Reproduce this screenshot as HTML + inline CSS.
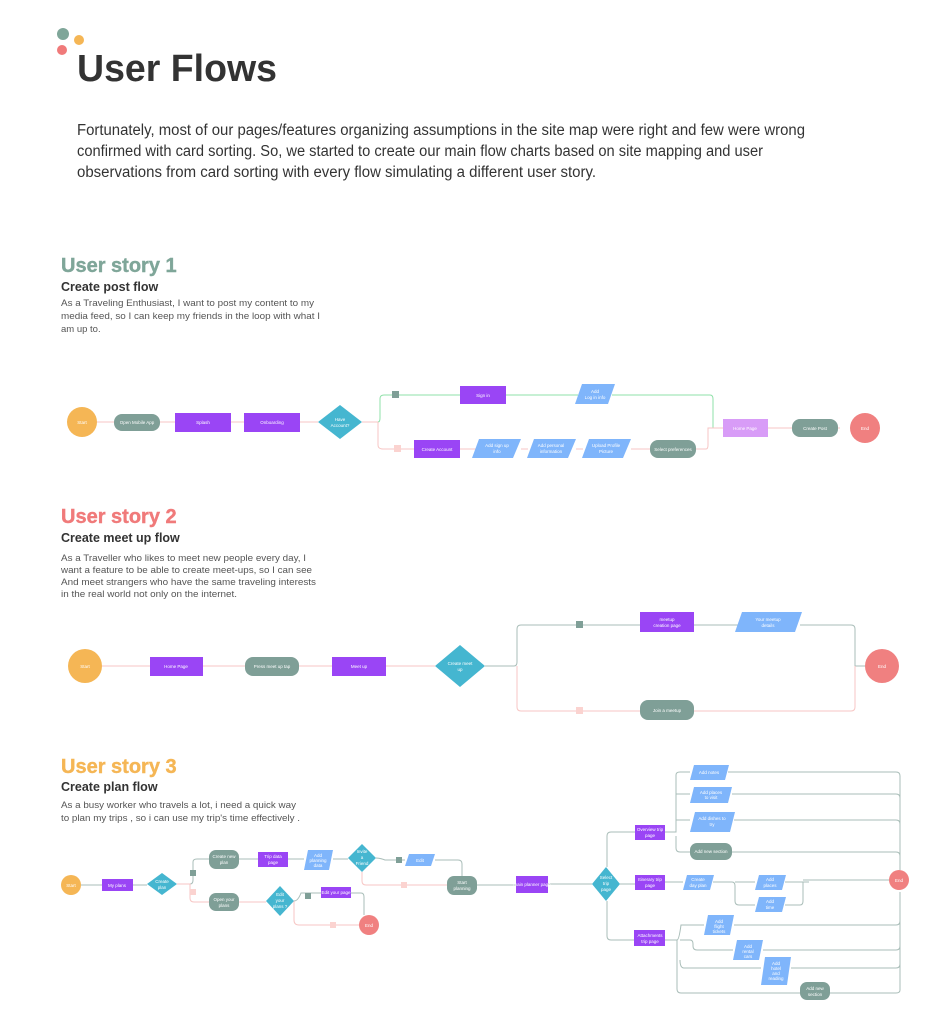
<!DOCTYPE html>
<html><head><meta charset="utf-8"><style>
html,body{margin:0;padding:0;background:#fff;}
svg{display:block}
text{font-family:"Liberation Sans",sans-serif}
.t{fill:#fff;font-size:4.5px;text-anchor:middle}
.ln{fill:none;stroke:#a9bdb8;stroke-width:1}
.g{fill:none;stroke:#8fe0a8;stroke-width:1}
.p{fill:none;stroke:#f7c6c4;stroke-width:1}
</style></head><body>
<svg width="941" height="1024" viewBox="0 0 941 1024" xmlns="http://www.w3.org/2000/svg">
<rect width="941" height="1024" fill="#fff"/>
<circle cx="63" cy="34" r="6" fill="#7fa699"/>
<circle cx="79" cy="40" r="5" fill="#f5b655"/>
<circle cx="62" cy="50" r="5" fill="#f07a7a"/>
<text x="77" y="81" font-size="38" font-weight="bold" fill="#333" textLength="200" lengthAdjust="spacingAndGlyphs">User Flows</text>
<g font-size="15.5" fill="#333">
<text x="77" y="135" textLength="728" lengthAdjust="spacingAndGlyphs">Fortunately, most of our pages/features organizing assumptions in the site map were right and few were wrong</text>
<text x="77" y="156" textLength="686" lengthAdjust="spacingAndGlyphs">confirmed with card sorting. So, we started to create our main flow charts based on site mapping and user</text>
<text x="77" y="177" textLength="519" lengthAdjust="spacingAndGlyphs">observations from card sorting with every flow simulating a different user story.</text>
</g>

<!-- Story 1 -->
<text x="61" y="272" font-size="20" font-weight="bold" fill="#7fa699" stroke="#7fa699" stroke-width="0.4">User story 1</text>
<text x="61" y="291" font-size="12.5" font-weight="bold" fill="#333">Create post flow</text>
<g font-size="9.5" fill="#555">
<text x="61" y="306" textLength="253" lengthAdjust="spacingAndGlyphs">As a Traveling Enthusiast, I want to post my content to my</text>
<text x="61" y="319" textLength="259" lengthAdjust="spacingAndGlyphs">media feed, so I can keep my friends in the loop with what I</text>
<text x="61" y="332">am up to.</text>
</g>
<path class="p" d="M97 422H114M160 422H175M231 422H244M300 422H318M362 422H378"/>
<path class="g" d="M378 422Q380 422 380 418V399Q380 395 384 395H460M506 395H578M612 395H710Q713 395 713 399V428"/>
<path class="p" d="M378 422V445Q378 449 383 449H414M460 449H476M521 449H528M576 449H583M631 449H650M695 449H706Q708 449 708 445V428H723M768 428H792M838 428H840"/>
<circle cx="82" cy="422" r="15" fill="#f5b655"/><text class="t" x="82" y="424">Start</text>
<rect x="114" y="414" width="46" height="17" rx="8" fill="#7f9f97"/><text class="t" x="137" y="424">Open Mobile App</text>
<rect x="175" y="413" width="56" height="19" fill="#9a45f5"/><text class="t" x="203" y="424">Splash</text>
<rect x="244" y="413" width="56" height="19" fill="#9a45f5"/><text class="t" x="272" y="424">Onboarding</text>
<polygon points="340,405 362,422 340,439 318,422" fill="#45b6d0"/><text class="t" x="340" y="421">Have</text><text class="t" x="340" y="427">Account?</text>
<rect x="392" y="391" width="7" height="7" fill="#7f9f97"/>
<rect x="394" y="445" width="7" height="7" fill="#fbd3d0"/>
<rect x="460" y="386" width="46" height="18" fill="#9a45f5"/><text class="t" x="483" y="397">Sign in</text>
<polygon points="582,384 615,384 608,404 575,404" fill="#7fb5fb"/><text class="t" x="595" y="393">Add</text><text class="t" x="595" y="399">Log in info</text>
<rect x="414" y="440" width="46" height="18" fill="#9a45f5"/><text class="t" x="437" y="451">Create Account</text>
<polygon points="479,439 521,439 513,458 472,458" fill="#7fb5fb"/><text class="t" x="497" y="447">Add sign up</text><text class="t" x="497" y="453">info</text>
<polygon points="534,439 576,439 568,458 527,458" fill="#7fb5fb"/><text class="t" x="551" y="447">Add personal</text><text class="t" x="551" y="453">information</text>
<polygon points="589,439 631,439 623,458 582,458" fill="#7fb5fb"/><text class="t" x="606" y="447">Upload Profile</text><text class="t" x="606" y="453">Picture</text>
<rect x="650" y="440" width="46" height="18" rx="8" fill="#7f9f97"/><text class="t" x="673" y="451">Select preferences</text>
<rect x="723" y="419" width="45" height="18" fill="#d89cf7"/><text class="t" x="745" y="430">Home Page</text>
<rect x="792" y="419" width="46" height="18" rx="8" fill="#7f9f97"/><text class="t" x="815" y="430">Create Post</text>
<circle cx="865" cy="428" r="15" fill="#f08080"/><text class="t" x="865" y="430">End</text>

<!-- Story 2 -->
<text x="61" y="523" font-size="20" font-weight="bold" fill="#f07a7a" stroke="#f07a7a" stroke-width="0.4">User story 2</text>
<text x="61" y="542" font-size="12.5" font-weight="bold" fill="#333">Create meet up flow</text>
<g font-size="9.5" fill="#555">
<text x="61" y="561" textLength="245" lengthAdjust="spacingAndGlyphs">As a Traveller who likes to meet new people every day, I</text>
<text x="61" y="573" textLength="251" lengthAdjust="spacingAndGlyphs">want a feature to be able to create meet-ups, so I can see</text>
<text x="61" y="585" textLength="255" lengthAdjust="spacingAndGlyphs">And meet strangers who have the same traveling interests</text>
<text x="61" y="597" textLength="176" lengthAdjust="spacingAndGlyphs">in the real world not only on the internet.</text>
</g>
<path class="p" d="M102 666H150M203 666H245M299 666H332M386 666H435"/>
<path class="ln" d="M485 666H514Q517 666 517 662V629Q517 625 521 625H640M694 625H740M800 625H851Q855 625 855 629V666H865"/>
<path class="p" d="M517 666V707Q517 711 521 711H640M694 711H851Q855 711 855 707V666"/>
<ellipse cx="85" cy="666" rx="17" ry="17" fill="#f5b655"/><text class="t" x="85" y="668">Start</text>
<rect x="150" y="657" width="53" height="19" fill="#9a45f5"/><text class="t" x="176" y="668">Home Page</text>
<rect x="245" y="657" width="54" height="19" rx="8" fill="#7f9f97"/><text class="t" x="272" y="668">Press meet up tap</text>
<rect x="332" y="657" width="54" height="19" fill="#9a45f5"/><text class="t" x="359" y="668">Meet up</text>
<polygon points="460,645 485,666 460,687 435,666" fill="#45b6d0"/><text class="t" x="460" y="665">Create meet</text><text class="t" x="460" y="671">up</text>
<rect x="576" y="621" width="7" height="7" fill="#7f9f97"/>
<rect x="576" y="707" width="7" height="7" fill="#fbd3d0"/>
<rect x="640" y="612" width="54" height="20" fill="#9a45f5"/><text class="t" x="667" y="621">meetup</text><text class="t" x="667" y="627">creation page</text>
<polygon points="742,612 802,612 795,632 735,632" fill="#7fb5fb"/><text class="t" x="768" y="621">Your meetup</text><text class="t" x="768" y="627">details</text>
<rect x="640" y="700" width="54" height="20" rx="8" fill="#7f9f97"/><text class="t" x="667" y="712">Join a meetup</text>
<ellipse cx="882" cy="666" rx="17" ry="17" fill="#f08080"/><text class="t" x="882" y="668">End</text>

<!-- Story 3 -->
<text x="61" y="773" font-size="20" font-weight="bold" fill="#f5b655" stroke="#f5b655" stroke-width="0.4">User story 3</text>
<text x="61" y="791" font-size="12.5" font-weight="bold" fill="#333">Create plan flow</text>
<g font-size="9.5" fill="#555">
<text x="61" y="808" textLength="235" lengthAdjust="spacingAndGlyphs">As a busy worker who travels a lot, i need a quick way</text>
<text x="61" y="821" textLength="239" lengthAdjust="spacingAndGlyphs">to plan my trips , so i can use my trip's time effectively .</text>
</g>
<path class="ln" d="M81 885H102M133 885H147M190 884Q193 884 193 880V862Q193 859 197 859H209M239 859H258M288 859H304M333 859H348M376 858Q380 858 385 860H405M435 860H458Q462 860 462 864V876M477 885H516M548 884H592"/>
<path class="p" d="M177 884H190V898Q190 902 194 902H209M239 902H266M362 872V881Q362 885 366 885H447"/>
<path class="ln" d="M294 901Q298 901 301 893H321M351 893H361Q364 893 364 897V915"/>
<path class="p" d="M294 901V920Q294 925 299 925H359"/>
<path class="ln" d="M620 884H625M607 867V836Q607 832 611 832H635M607 901V936Q607 940 611 940H635M620 884H635"/>
<path class="ln" d="M665 832H676V775Q676 772 680 772H690M728 772H896Q900 772 900 776V870M676 794H690M732 794H896Q900 794 900 798M676 820H690M734 820H896Q900 820 900 824M676 836V848Q676 852 680 852H690M732 852H896Q900 852 900 856"/>
<path class="ln" d="M665 882H683M713 882H732Q735 882 735 886V901Q735 905 739 905H755M735 882H755M785 882H809M785 905H800Q803 905 803 901V882M803 880H889M900 892V990Q900 993 896 993H830M665 940H677V989Q677 993 681 993H800M677 940Q679 940 681 925H704M734 925H896Q900 925 900 921M680 940H690Q693 940 693 944V946Q693 950 697 950H733M763 950H896Q900 950 900 946M680 960Q680 968 684 968H761M791 968H896Q900 968 900 964"/>
<circle cx="71" cy="885" r="10" fill="#f5b655"/><text class="t" x="71" y="887">Start</text>
<rect x="102" y="879" width="31" height="12" fill="#9a45f5"/><text class="t" x="117" y="887">My plans</text>
<polygon points="162,873 177,884 162,895 147,884" fill="#45b6d0"/><text class="t" x="162" y="883">Create</text><text class="t" x="162" y="889">plan</text>
<rect x="190" y="870" width="6" height="6" fill="#7f9f97"/><rect x="190" y="889" width="6" height="6" fill="#fbd3d0"/>
<rect x="209" y="850" width="30" height="19" rx="7" fill="#7f9f97"/><text class="t" x="224" y="858">Create new</text><text class="t" x="224" y="864">plan</text>
<rect x="258" y="852" width="30" height="15" fill="#9a45f5"/><text class="t" x="273" y="858">Trip data</text><text class="t" x="273" y="864">page</text>
<polygon points="308,850 333,850 329,870 304,870" fill="#7fb5fb"/><text class="t" x="318" y="857">Add</text><text class="t" x="318" y="862">planning</text><text class="t" x="318" y="867">data</text>
<polygon points="362,844 376,858 362,872 348,858" fill="#45b6d0"/><text class="t" x="362" y="853">Invite</text><text class="t" x="362" y="859">a</text><text class="t" x="362" y="865">Friend</text>
<rect x="396" y="857" width="6" height="6" fill="#7f9f97"/><rect x="401" y="882" width="6" height="6" fill="#fbd3d0"/>
<polygon points="409,854 435,854 431,866 405,866" fill="#7fb5fb"/><text class="t" x="420" y="862">Edit</text>
<rect x="447" y="876" width="30" height="19" rx="7" fill="#7f9f97"/><text class="t" x="462" y="884">Start</text><text class="t" x="462" y="890">planning</text>
<rect x="209" y="893" width="30" height="18" rx="7" fill="#7f9f97"/><text class="t" x="224" y="901">Open your</text><text class="t" x="224" y="907">plans</text>
<polygon points="280,886 294,901 280,916 266,901" fill="#45b6d0"/><text class="t" x="280" y="896">Edit</text><text class="t" x="280" y="902">your</text><text class="t" x="280" y="908">plans ?</text>
<rect x="305" y="893" width="6" height="6" fill="#7f9f97"/><rect x="330" y="922" width="6" height="6" fill="#fbd3d0"/>
<rect x="321" y="887" width="30" height="11" fill="#9a45f5"/><text class="t" x="336" y="894">Edit your page</text>
<circle cx="369" cy="925" r="10" fill="#f08080"/><text class="t" x="369" y="927">End</text>
<rect x="516" y="876" width="32" height="17" fill="#9a45f5"/><text class="t" x="532" y="886">main planner page</text>
<polygon points="606,867 620,884 606,901 592,884" fill="#45b6d0"/><text class="t" x="606" y="879">Select</text><text class="t" x="606" y="885">trip</text><text class="t" x="606" y="891">page</text>
<rect x="635" y="825" width="30" height="15" fill="#9a45f5"/><text class="t" x="650" y="831">Overview trip</text><text class="t" x="650" y="837">page</text>
<rect x="635" y="875" width="30" height="15" fill="#9a45f5"/><text class="t" x="650" y="881">Itinerary trip</text><text class="t" x="650" y="887">page</text>
<rect x="634" y="930" width="31" height="16" fill="#9a45f5"/><text class="t" x="650" y="937">Attachments</text><text class="t" x="650" y="943">trip page</text>
<polygon points="694,765 729,765 725,780 690,780" fill="#7fb5fb"/><text class="t" x="709" y="774">Add notes</text>
<polygon points="694,787 732,787 728,803 690,803" fill="#7fb5fb"/><text class="t" x="711" y="794">Add places</text><text class="t" x="711" y="799">to visit</text>
<polygon points="695,812 735,812 730,832 690,832" fill="#7fb5fb"/><text class="t" x="712" y="820">Add dishes to</text><text class="t" x="712" y="826">try</text>
<rect x="690" y="843" width="42" height="17" rx="7" fill="#7f9f97"/><text class="t" x="711" y="853">Add new section</text>
<polygon points="687,875 714,875 710,890 683,890" fill="#7fb5fb"/><text class="t" x="698" y="881">Create</text><text class="t" x="698" y="887">day plan</text>
<polygon points="759,875 786,875 782,890 755,890" fill="#7fb5fb"/><text class="t" x="770" y="881">Add</text><text class="t" x="770" y="887">places</text>
<polygon points="759,897 786,897 782,912 755,912" fill="#7fb5fb"/><text class="t" x="770" y="903">Add</text><text class="t" x="770" y="909">time</text>
<polygon points="708,915 734,915 730,935 704,935" fill="#7fb5fb"/><text class="t" x="719" y="923">Add</text><text class="t" x="719" y="928">flight</text><text class="t" x="719" y="933">tickets</text>
<polygon points="737,940 763,940 759,960 733,960" fill="#7fb5fb"/><text class="t" x="748" y="948">Add</text><text class="t" x="748" y="953">rental</text><text class="t" x="748" y="958">cars</text>
<polygon points="765,957 791,957 787,985 761,985" fill="#7fb5fb"/><text class="t" x="776" y="965">Add</text><text class="t" x="776" y="970">hotel</text><text class="t" x="776" y="975">and</text><text class="t" x="776" y="980">reading</text>
<rect x="800" y="982" width="30" height="18" rx="7" fill="#7f9f97"/><text class="t" x="815" y="990">Add new</text><text class="t" x="815" y="996">section</text>
<circle cx="899" cy="880" r="10" fill="#f08080"/><text class="t" x="899" y="882">End</text>
</svg>
</body></html>
